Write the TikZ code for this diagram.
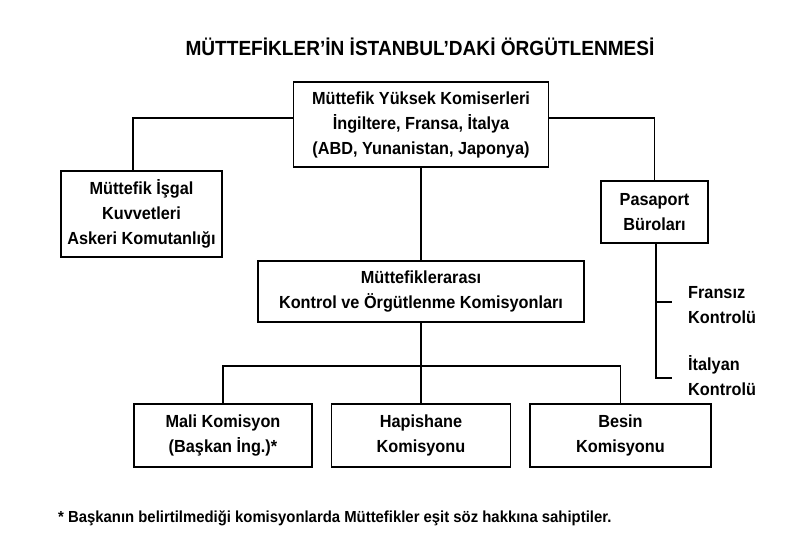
\documentclass[tikz,border=0pt]{standalone}
\usepackage{fontspec}
\setmainfont[FakeStretch=0.93]{Liberation Sans}
\begin{document}
\begin{tikzpicture}[x=1pt,y=-1pt,
  box/.style={draw,line width=1.8pt,align=center,inner sep=0pt,font=\fontsize{17.5}{25}\selectfont\bfseries},
  lbl/.style={align=left,inner sep=0pt,font=\fontsize{17.5}{25}\selectfont\bfseries},
  conn/.style={line width=1.6pt}]
\useasboundingbox[fill=white] (0,0) rectangle (800,539);
\node[inner sep=0pt,font=\fontsize{20.5}{24}\selectfont\bfseries] (title) at (420,47) {MÜTTEFİKLER’İN İSTANBUL’DAKİ ÖRGÜTLENMESİ};
\node[box,minimum width=255pt,minimum height=85pt] (top) at (421,124.5) {Müttefik Yüksek Komiserleri\\İngiltere, Fransa, İtalya\\(ABD, Yunanistan, Japonya)};
\node[box,minimum width=161pt,minimum height=86pt] (left) at (141.5,214) {Müttefik İşgal\\Kuvvetleri\\Askeri Komutanlığı};
\node[box,minimum width=107pt,minimum height=62pt] (pasa) at (654.5,212) {Pasaport\\Büroları};
\node[box,minimum width=326pt,minimum height=61pt] (mid) at (421,291.5) {Müttefiklerarası\\Kontrol ve Örgütlenme Komisyonları};
\node[box,minimum width=178pt,minimum height=63pt] (b1) at (223,435.5) {Mali Komisyon\\(Başkan İng.)*};
\node[box,minimum width=179pt,minimum height=63pt] (b2) at (421,435.5) {Hapishane\\Komisyonu};
\node[box,minimum width=181pt,minimum height=63pt] (b3) at (620.5,435.5) {Besin\\Komisyonu};
\node[lbl,anchor=west] (fr) at (688,305.5) {Fransız\\Kontrolü};
\node[lbl,anchor=west] (it) at (688,375.5) {İtalyan\\Kontrolü};
\node[inner sep=0pt,anchor=west,font=\fontsize{16}{19}\selectfont\bfseries] (foot) at (58,518) {* Başkanın belirtilmediği komisyonlarda Müttefikler eşit söz hakkına sahiptiler.};
\coordinate (j) at (421,366);
\coordinate (pend) at (656,378);
\coordinate (ftick) at (656,302);
\draw[conn] ([yshift=6.5pt]top.west) -| ([xshift=-8.5pt]left.north);
\draw[conn] ([yshift=6.5pt]top.east) -| (pasa.north);
\draw[conn] (top.south) -- (mid.north);
\draw[conn] (mid.south) -- (j);
\draw[conn] (b1.north) |- (j) -| (b3.north);
\draw[conn] (j) -- (b2.north);
\draw[conn] ([xshift=1.5pt]pasa.south) -- (pend) -- ([xshift=-16pt]fr.west |- pend);
\draw[conn] (ftick) -- ([xshift=-16pt]fr.west |- ftick);
\end{tikzpicture}
\end{document}
